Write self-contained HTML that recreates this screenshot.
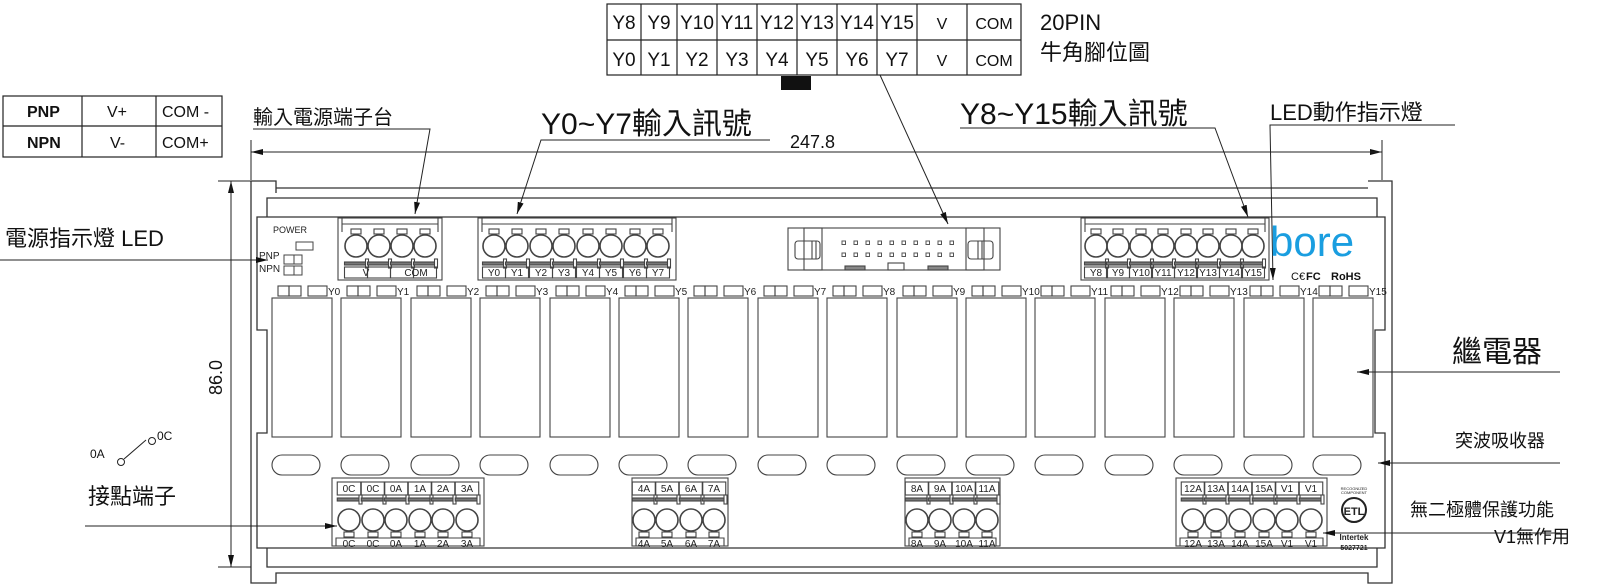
<!DOCTYPE html>
<html><head><meta charset="utf-8"><style>
html,body{margin:0;padding:0;background:#fff;}
svg{display:block;font-family:"Liberation Sans","Noto Sans CJK TC",sans-serif;}
.cj{font-family:"Liberation Sans","Noto Sans CJK TC",sans-serif;}
.s{font-size:10px;fill:#222;}
</style></head><body>
<svg width="1600" height="585" viewBox="0 0 1600 585" xmlns="http://www.w3.org/2000/svg" xmlns:xlink="http://www.w3.org/1999/xlink">
<defs>
<marker id="ar" markerWidth="12" markerHeight="6" refX="12" refY="3" orient="auto" markerUnits="userSpaceOnUse"><path d="M0,0 L12,3 L0,6 z" fill="#111"/></marker>
<g id="unit" fill="none" stroke="#444" stroke-width="1.1">
<rect x="0" y="298" width="60" height="139"/>
<rect x="6" y="286" width="11" height="10"/><rect x="17" y="286" width="12" height="10"/>
<rect x="36" y="286" width="19" height="10"/>
<rect x="0" y="455" width="48" height="20" rx="10"/>
</g>
<g id="tp" fill="none" stroke="#444" stroke-width="1.1">
<rect x="-5" y="229" width="10" height="5"/>
<circle cx="0" cy="246" r="11" stroke-width="1.6"/>
<rect x="-11.5" y="262" width="23" height="3" fill="#777"/>
<rect x="9.5" y="259" width="3" height="9" fill="#fff"/>
<rect x="-11.5" y="267" width="23" height="11"/>
</g>
<g id="bp" fill="none" stroke="#444" stroke-width="1.1">
<rect x="-11.75" y="482" width="23.5" height="13"/>
<rect x="-11.75" y="498" width="23.5" height="3" fill="#777"/>
<rect x="10" y="495" width="3" height="9" fill="#fff"/>
<circle cx="0" cy="520" r="11" stroke-width="1.6"/>
<rect x="-5" y="532" width="10" height="5"/>
</g>
</defs>
<g fill="none" stroke="#333" stroke-width="1.3">
<path d="M251,181 H276 V193 M276,188 H1368 M1368,181 H1392 V583 H1368 V573 H276 V583 H251 V181"/>
<path d="M267,217 V198 H1377 V217"/>
<path d="M257,217 H1385 V330 H1375 V433 H1385 V548 H257 V433 H267 V330 H257 Z"/>
<path d="M267,548 V567 H1377 V548"/>
</g>
<use xlink:href="#unit" x="272"/><use xlink:href="#unit" x="341"/><use xlink:href="#unit" x="411"/><use xlink:href="#unit" x="480"/><use xlink:href="#unit" x="550"/><use xlink:href="#unit" x="619"/><use xlink:href="#unit" x="688"/><use xlink:href="#unit" x="758"/><use xlink:href="#unit" x="827"/><use xlink:href="#unit" x="897"/><use xlink:href="#unit" x="966"/><use xlink:href="#unit" x="1035"/><use xlink:href="#unit" x="1105"/><use xlink:href="#unit" x="1174"/><use xlink:href="#unit" x="1244"/><use xlink:href="#unit" x="1313"/>
<!-- top blocks -->
<g fill="none" stroke="#444" stroke-width="1.1">
<rect x="338" y="218" width="104" height="62"/><path d="M342,224 H438 M342,218 V232 M438,218 V232"/>
<rect x="478" y="218" width="198" height="62"/><path d="M482,224 H672 M482,218 V232 M672,218 V232"/>
<rect x="1081" y="218" width="188" height="62"/><path d="M1085,224 H1265 M1085,218 V232 M1265,218 V232"/>
<rect x="332" y="478" width="152" height="68"/><path d="M336,546 V538 H480 V546"/>
<rect x="632" y="478" width="96" height="68"/><path d="M636,546 V538 H724 V546"/>
<rect x="905" y="478" width="95" height="68"/><path d="M909,546 V538 H996 V546"/>
<rect x="1176" y="478" width="151" height="68"/><path d="M1180,546 V538 H1323 V546"/>
</g>
<use xlink:href="#tp" x="356"/><use xlink:href="#tp" x="379"/><use xlink:href="#tp" x="402"/><use xlink:href="#tp" x="425"/>
<use xlink:href="#tp" x="494"/><use xlink:href="#tp" x="517"/><use xlink:href="#tp" x="541"/><use xlink:href="#tp" x="564"/><use xlink:href="#tp" x="588"/><use xlink:href="#tp" x="611"/><use xlink:href="#tp" x="635"/><use xlink:href="#tp" x="658"/>
<use xlink:href="#tp" x="1096"/><use xlink:href="#tp" x="1118"/><use xlink:href="#tp" x="1141"/><use xlink:href="#tp" x="1163"/><use xlink:href="#tp" x="1186"/><use xlink:href="#tp" x="1208"/><use xlink:href="#tp" x="1231"/><use xlink:href="#tp" x="1253"/>
<use xlink:href="#bp" x="349"/><use xlink:href="#bp" x="373"/><use xlink:href="#bp" x="396"/><use xlink:href="#bp" x="420"/><use xlink:href="#bp" x="443"/><use xlink:href="#bp" x="467"/>
<use xlink:href="#bp" x="644"/><use xlink:href="#bp" x="667"/><use xlink:href="#bp" x="691"/><use xlink:href="#bp" x="714"/>
<use xlink:href="#bp" x="917"/><use xlink:href="#bp" x="940"/><use xlink:href="#bp" x="964"/><use xlink:href="#bp" x="987"/>
<use xlink:href="#bp" x="1193"/><use xlink:href="#bp" x="1216"/><use xlink:href="#bp" x="1240"/><use xlink:href="#bp" x="1264"/><use xlink:href="#bp" x="1287"/><use xlink:href="#bp" x="1311"/>
<!-- header connector -->
<g fill="none" stroke="#444" stroke-width="1.1">
<rect x="788" y="228" width="212" height="42"/>
<rect x="804" y="228" width="18" height="42"/>
<rect x="966" y="228" width="18" height="42"/>
<rect x="795" y="241" width="25" height="18" rx="3"/>
<rect x="968" y="241" width="25" height="18" rx="3"/>
<path d="M812,241 V259 M816,241 V259 M978,241 V259 M982,241 V259"/>
<rect x="845" y="266" width="20" height="4" fill="#888"/><rect x="888" y="263" width="16" height="7"/><rect x="928" y="266" width="20" height="4" fill="#888"/>
</g>
<g fill="none" stroke="#555" stroke-width="1">
<path d="M842,241h3.5v3.5h-3.5z M854,241h3.5v3.5h-3.5z M866,241h3.5v3.5h-3.5z M878,241h3.5v3.5h-3.5z M890,241h3.5v3.5h-3.5z M902,241h3.5v3.5h-3.5z M914,241h3.5v3.5h-3.5z M926,241h3.5v3.5h-3.5z M938,241h3.5v3.5h-3.5z M950,241h3.5v3.5h-3.5z
M842,253h3.5v3.5h-3.5z M854,253h3.5v3.5h-3.5z M866,253h3.5v3.5h-3.5z M878,253h3.5v3.5h-3.5z M890,253h3.5v3.5h-3.5z M902,253h3.5v3.5h-3.5z M914,253h3.5v3.5h-3.5z M926,253h3.5v3.5h-3.5z M938,253h3.5v3.5h-3.5z M950,253h3.5v3.5h-3.5z"/>
</g>

<!-- Top-left table -->
<g fill="none" stroke="#222" stroke-width="1.2">
<rect x="3" y="96" width="219" height="61"/><path d="M3,126 H222 M82,96 V157 M156,96 V157"/>
</g>
<g font-size="16" fill="#111">
<text x="27" y="117" font-weight="bold">PNP</text><text x="107" y="117">V+</text><text x="162" y="117">COM -</text>
<text x="27" y="148" font-weight="bold">NPN</text><text x="110" y="148">V-</text><text x="162" y="148">COM+</text>
</g>
<!-- pin table -->
<g fill="none" stroke="#222" stroke-width="1.2">
<rect x="607" y="4" width="414" height="71"/><path d="M607,40 H1021 M641,4 V75 M677,4 V75 M717,4 V75 M757,4 V75 M797,4 V75 M837,4 V75 M877,4 V75 M917,4 V75 M967,4 V75"/>
</g>
<rect x="781" y="76" width="30" height="14" fill="#111"/>
<g font-size="19" fill="#111" text-anchor="middle">
<text x="624" y="29">Y8</text><text x="659" y="29">Y9</text><text x="697" y="29">Y10</text><text x="737" y="29">Y11</text><text x="777" y="29">Y12</text><text x="817" y="29">Y13</text><text x="857" y="29">Y14</text><text x="897" y="29">Y15</text><text x="942" y="29" font-size="16">V</text><text x="994" y="29" font-size="16">COM</text>
<text x="624" y="66">Y0</text><text x="659" y="66">Y1</text><text x="697" y="66">Y2</text><text x="737" y="66">Y3</text><text x="777" y="66">Y4</text><text x="817" y="66">Y5</text><text x="857" y="66">Y6</text><text x="897" y="66">Y7</text><text x="942" y="66" font-size="16">V</text><text x="994" y="66" font-size="16">COM</text>
</g>
<text x="1040" y="30" font-size="22" fill="#111">20PIN</text>
<text x="1040" y="60" font-size="22" fill="#111" class="cj">牛角腳位圖</text>

<!-- dimension -->
<g stroke="#222" stroke-width="1" fill="none">
<path d="M251,140 V180 M1382,140 V180"/>
<path d="M251,152 H1382" marker-end="url(#ar)"/>
<path d="M1382,152 H251" marker-end="url(#ar)"/>
<path d="M218,181 H251 M218,567 H251"/>
<path d="M231,567 V181" marker-end="url(#ar)"/><path d="M231,181 V567" marker-end="url(#ar)"/>
</g>
<text x="790" y="148" font-size="18" fill="#111">247.8</text>
<text transform="translate(222,395) rotate(-90)" font-size="18" fill="#111">86.0</text>

<!-- labels & leaders -->
<g font-size="20" fill="#111" class="cj">
<text x="253" y="124">輸入電源端子台</text>
<text x="541" y="134" font-size="30">Y0~Y7輸入訊號</text>
<text x="960" y="124" font-size="30">Y8~Y15輸入訊號</text>
<text x="1270" y="120" font-size="22">LED動作指示燈</text>
<text x="5" y="246" font-size="22">電源指示燈 LED</text>
<text x="1452" y="362" font-size="30">繼電器</text>
<text x="1455" y="447" font-size="18">突波吸收器</text>
<text x="1410" y="516" font-size="18">無二極體保護功能</text>
<text x="1570" y="543" font-size="18" text-anchor="end">V1無作用</text>
<text x="88" y="504" font-size="22">接點端子</text>
</g>
<g stroke="#222" stroke-width="1" fill="none">
<path d="M253,129 H430 L415,214" marker-end="url(#ar)"/>
<path d="M770,140 H541 L517,214" marker-end="url(#ar)"/>
<path d="M960,128 H1215 L1248,217" marker-end="url(#ar)"/>
<path d="M1455,125 H1270 L1273,280" marker-end="url(#ar)"/>
<path d="M880,75 L948,224" marker-end="url(#ar)"/>
<path d="M0,260 H268" marker-end="url(#ar)"/>
<path d="M1560,372 H1357" marker-end="url(#ar)"/>
<path d="M1560,463 H1378" marker-end="url(#ar)"/>
<path d="M1560,533 H1323" marker-end="url(#ar)"/>
<path d="M85,526 H337" marker-end="url(#ar)"/>
<circle cx="121" cy="462" r="3.5"/><circle cx="152" cy="441" r="3.5"/><path d="M124,459 L146,440"/>
</g>
<text x="90" y="458" font-size="12" fill="#111">0A</text><text x="157" y="440" font-size="12" fill="#111">0C</text>

<!-- power area -->
<text x="273" y="233" font-size="9" fill="#222">POWER</text>
<text x="259" y="259" font-size="10" fill="#222">PNP</text>
<text x="259" y="272" font-size="10" fill="#222">NPN</text>
<g fill="none" stroke="#444" stroke-width="1"><rect x="296" y="242" width="17" height="8"/><rect x="284" y="255" width="10" height="9"/><rect x="294" y="255" width="8" height="9"/><rect x="284" y="266" width="10" height="9"/><rect x="294" y="266" width="8" height="9"/></g>

<!-- logo -->
<text x="1270" y="256" font-size="42" fill="#1a9ee0">bore</text>
<text x="1291" y="280" font-size="11" fill="#111">C€</text><text x="1306" y="280" font-size="11" fill="#111" font-weight="bold">FC</text><text x="1331" y="280" font-size="11" fill="#111" font-weight="bold">RoHS</text>
<!-- ETL -->
<text x="1354" y="490" font-size="4" fill="#222" text-anchor="middle">RECOGNIZED</text><text x="1354" y="494" font-size="4" fill="#222" text-anchor="middle">COMPONENT</text>
<circle cx="1354" cy="510" r="12" fill="none" stroke="#222" stroke-width="2"/><text x="1354" y="515" font-size="11" font-weight="bold" fill="#222" text-anchor="middle">ETL</text>
<text x="1354" y="540" font-size="8" font-weight="bold" fill="#222" text-anchor="middle">Intertek</text><text x="1354" y="550" font-size="7" font-weight="bold" fill="#222" text-anchor="middle">5027721</text>

<!-- relay LED labels -->
<g class="s">
<text x="328" y="295">Y0</text><text x="397" y="295">Y1</text><text x="467" y="295">Y2</text><text x="536" y="295">Y3</text><text x="606" y="295">Y4</text><text x="675" y="295">Y5</text><text x="744" y="295">Y6</text><text x="814" y="295">Y7</text><text x="883" y="295">Y8</text><text x="953" y="295">Y9</text><text x="1022" y="295">Y10</text><text x="1091" y="295">Y11</text><text x="1161" y="295">Y12</text><text x="1230" y="295">Y13</text><text x="1300" y="295">Y14</text><text x="1369" y="295">Y15</text>
</g>
<!-- terminal labels -->
<g class="s" text-anchor="middle">
<text x="366" y="276">V</text><text x="416" y="276">COM</text>
<text x="494" y="276">Y0</text><text x="517" y="276">Y1</text><text x="541" y="276">Y2</text><text x="564" y="276">Y3</text><text x="588" y="276">Y4</text><text x="611" y="276">Y5</text><text x="635" y="276">Y6</text><text x="658" y="276">Y7</text>
<text x="1096" y="276">Y8</text><text x="1118" y="276">Y9</text><text x="1141" y="276">Y10</text><text x="1163" y="276">Y11</text><text x="1186" y="276">Y12</text><text x="1208" y="276">Y13</text><text x="1231" y="276">Y14</text><text x="1253" y="276">Y15</text>
<text x="349" y="492">0C</text><text x="373" y="492">0C</text><text x="396" y="492">0A</text><text x="420" y="492">1A</text><text x="443" y="492">2A</text><text x="467" y="492">3A</text>
<text x="349" y="547">0C</text><text x="373" y="547">0C</text><text x="396" y="547">0A</text><text x="420" y="547">1A</text><text x="443" y="547">2A</text><text x="467" y="547">3A</text>
<text x="644" y="492">4A</text><text x="667" y="492">5A</text><text x="691" y="492">6A</text><text x="714" y="492">7A</text>
<text x="644" y="547">4A</text><text x="667" y="547">5A</text><text x="691" y="547">6A</text><text x="714" y="547">7A</text>
<text x="917" y="492">8A</text><text x="940" y="492">9A</text><text x="964" y="492">10A</text><text x="987" y="492">11A</text>
<text x="917" y="547">8A</text><text x="940" y="547">9A</text><text x="964" y="547">10A</text><text x="987" y="547">11A</text>
<text x="1193" y="492">12A</text><text x="1216" y="492">13A</text><text x="1240" y="492">14A</text><text x="1264" y="492">15A</text><text x="1287" y="492">V1</text><text x="1311" y="492">V1</text>
<text x="1193" y="547">12A</text><text x="1216" y="547">13A</text><text x="1240" y="547">14A</text><text x="1264" y="547">15A</text><text x="1287" y="547">V1</text><text x="1311" y="547">V1</text>
</g>
</svg>
</body></html>
